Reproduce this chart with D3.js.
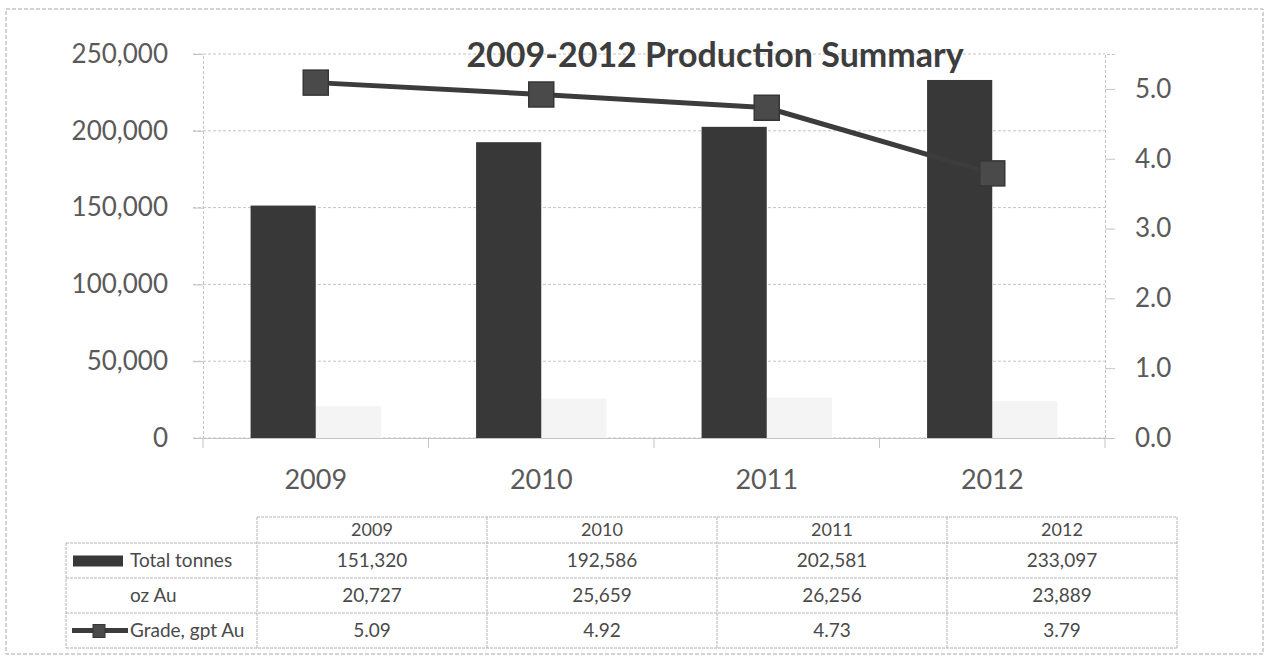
<!DOCTYPE html>
<html>
<head>
<meta charset="utf-8">
<script src="https://cdn.jsdelivr.net/npm/d3@7"></script>
<style>
  html, body { margin: 0; padding: 0; background: #ffffff; }
  svg { display: block; }
</style>
</head>
<body>
<svg id="chart" width="1273" height="660"></svg>
<script>
// ---- data ----
const categories = ["2009", "2010", "2011", "2012"];
const totalTonnes = [151320, 192586, 202581, 233097];
const ozAu = [20727, 25659, 26256, 23889];
const grade = [5.09, 4.92, 4.73, 3.79];
const leftTicks = [0, 50000, 100000, 150000, 200000, 250000];
const rightTicks = [0, 1, 2, 3, 4, 5];
const rowLabels = ["Total tonnes", "oz Au", "Grade, gpt Au"];
const title = "2009-2012 Production Summary";

// ---- layout ----
const svg = d3.select("#chart");
const FONT = "Lato, 'Open Sans', sans-serif";
const plot = { left: 203, right: 1105, top: 54, bottom: 438 };
const gridColor = "#c4c4c4";
const barColor = "#383838";
const textColor = "#5a5a5a";

// outer border
svg.append("rect")
  .attr("x", 6).attr("y", 9).attr("width", 1257).attr("height", 645)
  .attr("fill", "none").attr("stroke", "#a8a8a8").attr("stroke-width", 1)
  .attr("stroke-dasharray", "4,2");

const x = d3.scaleBand().domain(categories).range([plot.left, plot.right]).padding(0);
const xs = d3.scaleBand().domain(["tonnes", "oz"]).range([0, x.bandwidth()])
  .paddingInner(0).paddingOuter(0.73);
const yL = d3.scaleLinear().domain([0, 250000]).range([plot.bottom, plot.top]);
const yR = d3.scaleLinear().domain([0, 5.5]).range([plot.bottom, plot.top]);

// gridlines
svg.append("g").selectAll("line").data(leftTicks).join("line")
  .attr("x1", plot.left - 10).attr("x2", plot.right)
  .attr("y1", d => yL(d)).attr("y2", d => yL(d))
  .attr("stroke", gridColor).attr("stroke-width", 1).attr("stroke-dasharray", "3,2");

// left axis
const gL = svg.append("g").attr("transform", `translate(${plot.left},0)`)
  .call(d3.axisLeft(yL).tickValues(leftTicks).tickFormat(d3.format(",")).tickSize(10).tickPadding(25));
gL.select(".domain").attr("stroke", gridColor).attr("stroke-dasharray", "3,2");
gL.selectAll(".tick line").attr("stroke", gridColor);
gL.selectAll(".tick text").attr("font-family", FONT).attr("font-size", 26)
  .attr("fill", textColor);

// right axis
const gR = svg.append("g").attr("transform", `translate(${plot.right},0)`)
  .call(d3.axisRight(yR).tickValues(rightTicks).tickFormat(d3.format(".1f")).tickSize(10).tickPadding(20));
gR.select(".domain").attr("stroke", gridColor).attr("stroke-dasharray", "3,2");
gR.selectAll(".tick line").attr("stroke", gridColor);
gR.selectAll(".tick text").attr("font-family", FONT).attr("font-size", 26)
  .attr("fill", textColor);

// bottom axis (category boundaries)
const gB = svg.append("g").attr("transform", `translate(0,${plot.bottom})`)
  .call(d3.axisBottom(x).tickSize(0).tickPadding(32));
gB.select(".domain").attr("stroke", gridColor);
gB.selectAll(".tick text").attr("font-family", FONT).attr("font-size", 27)
  .attr("fill", textColor);
svg.append("g").selectAll("line").data(categories.concat(["end"])).join("line")
  .attr("x1", (d, i) => plot.left + i * x.step()).attr("x2", (d, i) => plot.left + i * x.step())
  .attr("y1", plot.bottom).attr("y2", plot.bottom + 10)
  .attr("stroke", gridColor);

// oz Au bars (nearly invisible)
svg.append("g").selectAll("rect").data(categories).join("rect")
  .attr("x", d => x(d) + xs("oz"))
  .attr("width", xs.bandwidth())
  .attr("y", (d, i) => yL(ozAu[i]))
  .attr("height", (d, i) => plot.bottom - yL(ozAu[i]))
  .attr("fill", "#f4f4f4");

// Total tonnes bars
svg.append("g").selectAll("rect").data(categories).join("rect")
  .attr("x", d => x(d) + xs("tonnes"))
  .attr("width", xs.bandwidth())
  .attr("y", (d, i) => yL(totalTonnes[i]))
  .attr("height", (d, i) => plot.bottom - yL(totalTonnes[i]))
  .attr("fill", barColor);

// title
svg.append("text").attr("x", 715).attr("y", 67).attr("text-anchor", "middle")
  .attr("font-family", FONT).attr("font-weight", 700).attr("font-size", 34)
  .attr("fill", "#3d3d3d").text(title);

// grade line
const cx = d => x(d) + x.bandwidth() / 2;
const line = d3.line().x((d, i) => cx(categories[i])).y(d => yR(d));
svg.append("path").datum(grade).attr("d", line)
  .attr("fill", "none").attr("stroke", "#3c3c3c").attr("stroke-width", 5)
  .attr("stroke-linejoin", "round");
const ms = 25;
svg.append("g").selectAll("rect").data(grade).join("rect")
  .attr("x", (d, i) => cx(categories[i]) - ms / 2)
  .attr("y", d => yR(d) - ms / 2)
  .attr("width", ms).attr("height", ms)
  .attr("fill", "#4a4a4a").attr("stroke", "#363636").attr("stroke-width", 1.5);

// ---- data table ----
const tbl = { left: 66, colLeft: 257, right: 1177, top: 517, headBottom: 543 };
const rowH = 35;
const xt = d3.scaleBand().domain(categories).range([tbl.colLeft, tbl.right]).padding(0);
const rowY = i => tbl.headBottom + i * rowH;
const tblBottom = rowY(rowLabels.length);
const tg = svg.append("g");
const tStroke = "#b4b4b4";
function hline(x1, x2, y) {
  tg.append("line").attr("x1", x1).attr("x2", x2).attr("y1", y).attr("y2", y)
    .attr("stroke", tStroke).attr("stroke-dasharray", "3,1");
}
function vline(xx, y1, y2) {
  tg.append("line").attr("x1", xx).attr("x2", xx).attr("y1", y1).attr("y2", y2)
    .attr("stroke", tStroke).attr("stroke-dasharray", "3,1");
}
hline(tbl.colLeft, tbl.right, tbl.top);
for (let i = 0; i <= rowLabels.length; i++) hline(tbl.left, tbl.right, rowY(i));
vline(tbl.left, tbl.headBottom, tblBottom);
categories.forEach(c => vline(xt(c), tbl.top, tblBottom));
vline(tbl.right, tbl.top, tblBottom);

// header
tg.selectAll("text.head").data(categories).join("text").attr("class", "head")
  .attr("x", d => xt(d) + xt.bandwidth() / 2).attr("y", (tbl.top + tbl.headBottom) / 2)
  .attr("dy", "0.35em").attr("text-anchor", "middle")
  .attr("font-family", FONT).attr("font-size", 18).attr("fill", "#4a4a4a").text(d => d);

const fmts = [d3.format(","), d3.format(","), d3.format(".2f")];
const rowsData = [totalTonnes, ozAu, grade];
rowsData.forEach((vals, r) => {
  tg.selectAll(`text.r${r}`).data(vals).join("text").attr("class", `r${r}`)
    .attr("x", (d, i) => xt(categories[i]) + xt.bandwidth() / 2)
    .attr("y", rowY(r) + rowH / 2).attr("dy", "0.35em").attr("text-anchor", "middle")
    .attr("font-family", FONT).attr("font-size", 19).attr("fill", "#4a4a4a")
    .text(d => fmts[r](d));
  tg.append("text").attr("x", 130).attr("y", rowY(r) + rowH / 2).attr("dy", "0.35em")
    .attr("font-family", FONT).attr("font-size", 19).attr("fill", "#4a4a4a")
    .text(rowLabels[r]);
});
// legend keys
const k0 = rowY(0) + rowH / 2;
tg.append("rect").attr("x", 73).attr("y", k0 - 5).attr("width", 50).attr("height", 11).attr("fill", barColor);
const k2 = rowY(2) + rowH / 2;
tg.append("line").attr("x1", 72).attr("x2", 128).attr("y1", k2).attr("y2", k2)
  .attr("stroke", "#3c3c3c").attr("stroke-width", 5);
tg.append("rect").attr("x", 93).attr("y", k2 - 6).attr("width", 12).attr("height", 13)
  .attr("fill", "#4a4a4a").attr("stroke", "#363636");
</script>
</body>
</html>
